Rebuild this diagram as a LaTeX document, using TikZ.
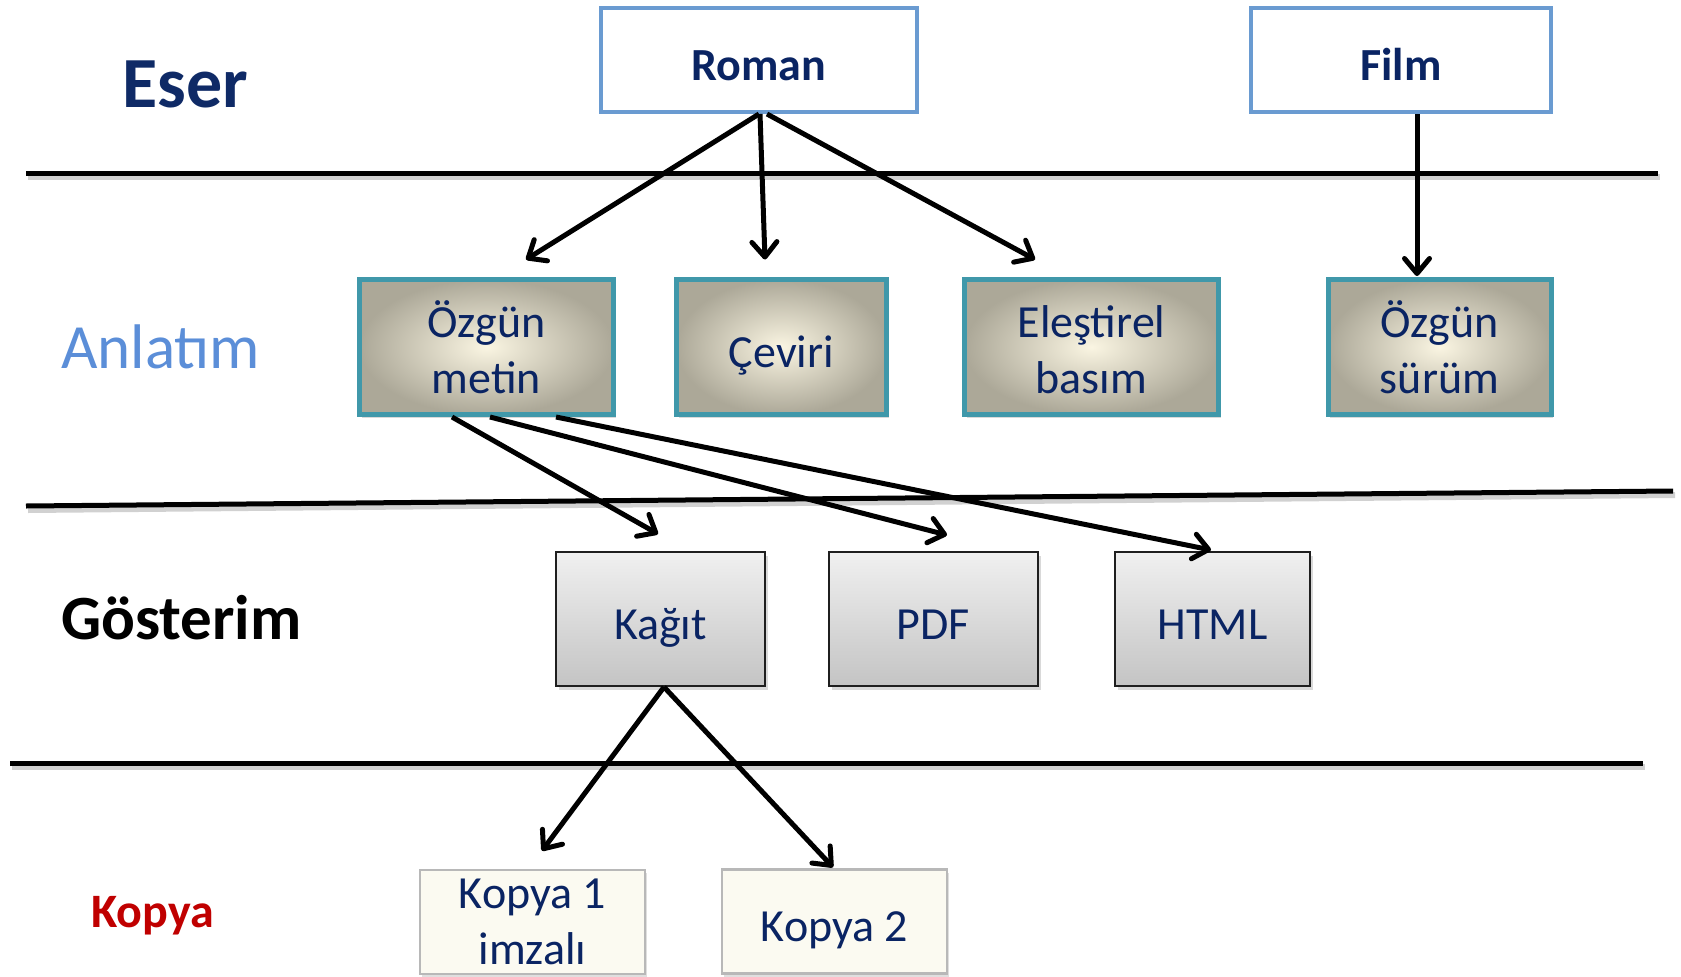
\documentclass[tikz,border=0pt]{standalone}
\usepackage{fontspec}
\setmainfont{Carlito}
\usetikzlibrary{arrows.meta,calc,shadows}
\definecolor{navy}{HTML}{0A2463}
\definecolor{esernavy}{HTML}{0F2A66}
\definecolor{anlblue}{HTML}{5B8ED8}
\definecolor{kopred}{HTML}{C00000}
\definecolor{workblue}{HTML}{6A9BD1}
\definecolor{tealb}{HTML}{4098AA}
\definecolor{cream}{HTML}{FAF5E2}
\definecolor{khaki}{HTML}{ACA898}
\definecolor{gtop}{HTML}{F0F0F0}
\definecolor{gbot}{HTML}{C4C4C4}
\definecolor{ivory}{HTML}{FBFAF1}
\begin{document}
\begin{tikzpicture}[x=1pt,y=-1pt,
  boxfont/.style={font=\fontsize{46}{56}\selectfont, text=navy, align=center, inner sep=0pt},
  oneline/.style={text height=40pt, text depth=0pt},
  workbox/.style={boxfont, font=\fontsize{46}{56}\selectfont\bfseries, draw=workblue, line width=4pt, fill=white, minimum height=104pt},
  exprbox/.style={boxfont, draw=tealb, line width=5pt, inner color=cream, outer color=khaki, minimum height=135pt,
     drop shadow={shadow xshift=2pt, shadow yshift=-3pt, opacity=0.3}},
  manbox/.style={boxfont, draw=black!88, line width=2pt, top color=gtop, bottom color=gbot, minimum height=134pt,
     drop shadow={shadow xshift=3pt, shadow yshift=-4pt, opacity=0.3}},
  copybox/.style={boxfont, draw=black!28, line width=2.5pt, fill=ivory, minimum height=104pt,
     drop shadow={shadow xshift=2pt, shadow yshift=-3pt, opacity=0.25}},
  lbl/.style={anchor=base west, inner sep=0pt},
  sep/.style={line width=5pt},
  sepshade/.style={line width=6pt, draw=black!18},
  arr/.style={line width=5pt, -{Straight Barb[length=15pt,width=25pt,round]}}
]
\useasboundingbox (0,0) rectangle (1681,977);

% separators
\draw[sepshade] (28,177) -- (1660,177);
\draw[sepshade] (28,510) -- (1675,495);
\draw[sepshade] (12,767) -- (1645,767);
\draw[sep] (26,173) -- (1658,173);
\draw[sep] (26,506) -- (1673,491);
\draw[sep] (10,763) -- (1643,763);

% level labels
\node[lbl, font=\fontsize{72}{80}\selectfont\bfseries, text=esernavy] (eser) at (122,107) {Eser};
\node[lbl, font=\fontsize{63}{70}\selectfont, text=anlblue] (anlatim) at (61,368) {Anlatım};
\node[lbl, font=\fontsize{63}{70}\selectfont\bfseries, text=black] (gosterim) at (61,639) {Gösterim};
\node[lbl, font=\fontsize{48}{56}\selectfont\bfseries, text=kopred] (kopya) at (91,927) {Kopya};

% works
\node[workbox, oneline, minimum width=316pt] (roman) at (759,60) {Roman};
\node[workbox, oneline, minimum width=300pt] (film) at (1401,60) {Film};

% expressions
\node[exprbox, minimum width=254pt] (ozm) at (486.5,347) {Özgün\\metin};
\node[exprbox, oneline, minimum width=210pt] (cev) at (781.5,347) {Çeviri};
\node[exprbox, minimum width=254pt] (ele) at (1091.5,347) {\vphantom{Ö}Eleştirel\\basım};
\node[exprbox, minimum width=223pt] (ozs) at (1439.5,347) {Özgün\\sürüm};

% manifestations
\node[manbox, oneline, minimum width=209pt] (kag) at (660.5,619) {Kağıt};
\node[manbox, oneline, minimum width=209pt] (pdf) at (933,619) {PDF};
\node[manbox, oneline, minimum width=195pt] (html) at (1212.5,619) {HTML};

% items
\node[copybox, minimum width=225pt] (k1) at (532.5,922) {Kopya 1\\imzalı};
\node[copybox, oneline, minimum width=225pt] (k2) at (834.5,921.5) {Kopya 2};

% connectors
\draw[arr] (roman.south) -- ($(ozm.north)+(39.5,-17.5)$);
\draw[arr] ($(roman.south)+(1,0)$) -- ($(cev.north)+(-16.5,-17.5)$);
\draw[arr] ($(roman.south)+(8,0)$) -- ($(ele.north)+(-56.5,-17.5)$);
\draw[arr] ($(film.south)+(16,0)$) -- ($(ozs.north)+(-22.5,-1)$);

\draw[arr] ($(ozm.south)+(-34.5,0)$) -- ($(kag.north)+(-2.5,-17)$);
\draw[arr] ($(ozm.south)+(3.5,0)$) -- ($(pdf.north)+(14,-16)$);
\draw[arr] ($(ozm.south)+(69.5,0)$) -- ($(html.north)+(-1.5,-1)$);

\draw[arr] ($(kag.south)+(3.5,0)$) -- ($(k1.north)+(9.5,-18)$);
\draw[arr] ($(kag.south)+(3.5,0)$) -- ($(k2.north)+(-1.5,-1)$);
\end{tikzpicture}
\end{document}
